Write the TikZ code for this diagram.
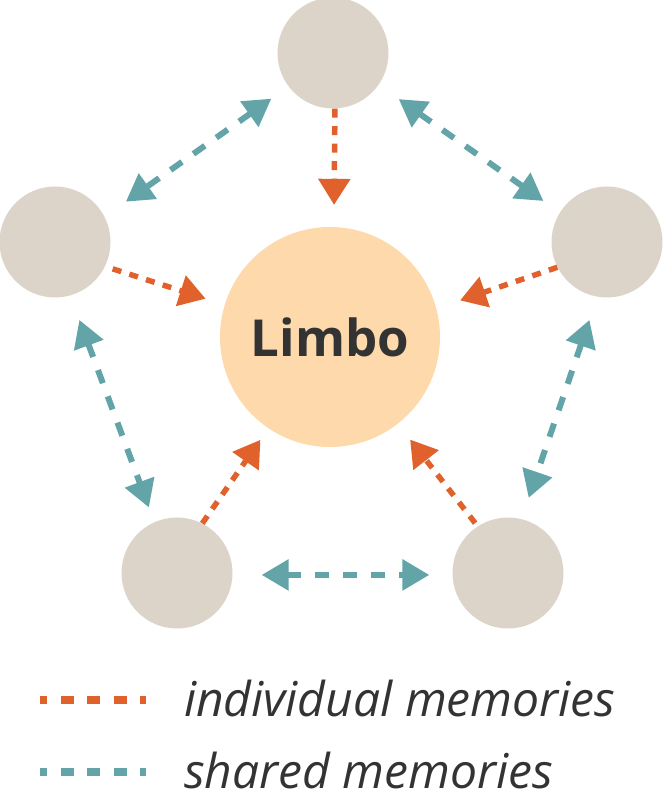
\documentclass[tikz,border=0pt]{standalone}
\usepackage{fontspec}
\setmainfont{Open Sans}
\usetikzlibrary{arrows.meta}
\definecolor{memgray}{HTML}{DCD4C9}
\definecolor{limbofill}{HTML}{FDD9AB}
\definecolor{indiv}{HTML}{E0612B}
\definecolor{shared}{HTML}{62A4A8}
\definecolor{txt}{HTML}{333333}
\tikzset{
  memory/.style={circle, fill=memgray, minimum size=111pt, inner sep=0pt},
  limbo/.style={circle, fill=limbofill, minimum size=220pt, inner sep=0pt,
    text=txt, font=\fontsize{51}{60}\selectfont\bfseries},
  indarrow/.style={draw=indiv, line width=5.5pt, dash pattern=on 9pt off 8.5pt,
    -{Triangle[length=26pt,width=31pt]}, color=indiv},
  sharrow/.style={draw=shared, line width=6pt, dash pattern=on 14pt off 14pt,
    {Triangle[length=27pt,width=30pt]}-{Triangle[length=27pt,width=30pt]}, color=shared},
  legline/.style={line width=8pt, dash pattern=on 13pt off 13.5pt, dash phase=6pt},
  legtext/.style={anchor=base west, inner sep=0pt, text=txt,
    font=\fontsize{48}{56}\selectfont\itshape}
}
\begin{document}
\begin{tikzpicture}[x=1pt,y=1pt]
\useasboundingbox (0,0) rectangle (672,804);
\node[memory] (t) at (333,751) {};
\node[memory] (l) at (55,562) {};
\node[memory] (r) at (607,562) {};
\node[memory] (bl) at (177,231) {};
\node[memory] (br) at (508,231) {};
\node[limbo] (c) at (330,467) {Limbo};
% individual memories
\draw[indarrow, shorten >=22pt] (t.-88) -- (c.88);
\draw[indarrow, shorten <=8pt, shorten >=20pt] (l.-26) -- (c.163.5);
\draw[indarrow, shorten >=25pt] (r.207.5) -- (c.15.9);
\draw[indarrow, shorten >=14pt] (bl.63.4) -- (c.236.8);
\draw[indarrow, shorten <=4pt, shorten >=20pt] (br.123.4) -- (c.-52.2);
% shared memories
\draw[sharrow, shorten <=21pt, shorten >=26pt] (t.217) -- (l.27.2);
\draw[sharrow, shorten <=24.6pt, shorten >=20pt] (t.-35.3) -- (r.148.6);
\draw[sharrow, shorten <=26pt, shorten >=15.6pt] (l.-74.9) -- (bl.114.8);
\draw[sharrow, shorten <=24.4pt, shorten >=22.3pt] (r.-100.9) -- (br.76);
\draw[sharrow, shorten <=29pt, shorten >=23pt] (bl.-2.7) -- (br.182.9);
% legend
\coordinate (li1) at (40,104);
\coordinate (li2) at (146,104);
\coordinate (ls1) at (40,32);
\coordinate (ls2) at (146,32);
\draw[legline, draw=indiv] (li1) -- (li2);
\draw[legline, draw=shared] (ls1) -- (ls2);
\node[legtext] (lit) at (184,87) {individual memories};
\node[legtext] (lst) at (184,16) {shared memories};
\end{tikzpicture}
\end{document}
